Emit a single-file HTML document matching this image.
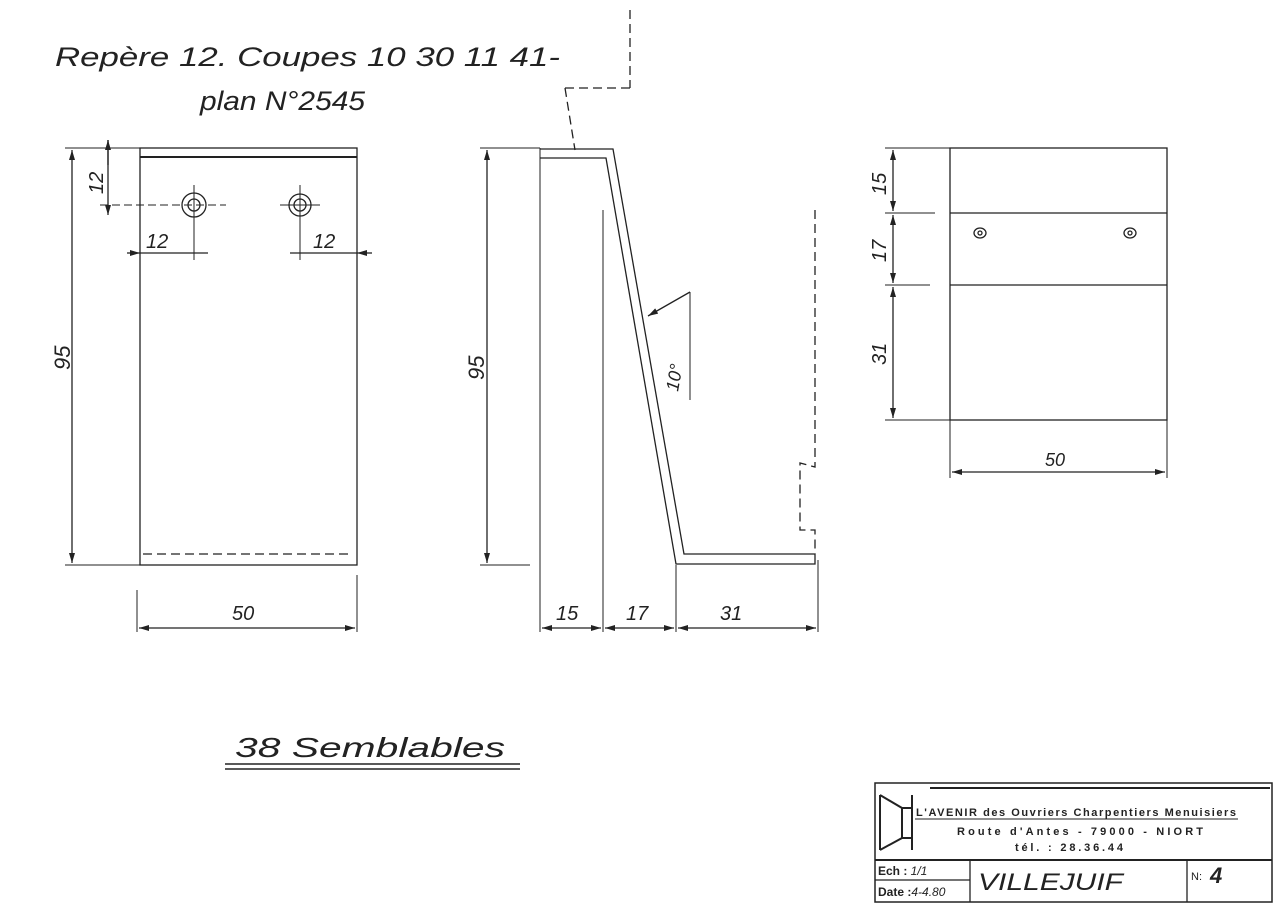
<!DOCTYPE html>
<html><head><meta charset="utf-8"><style>
html,body{margin:0;padding:0;background:#fff;}
svg{display:block;}
text{font-family:"Liberation Sans",sans-serif;fill:#222;}
.h{font-style:italic;}
</style></head><body>
<svg width="1280" height="904" viewBox="0 0 1280 904" xmlns="http://www.w3.org/2000/svg">
<defs>
<marker id="a" viewBox="0 0 10 6" refX="10" refY="3" markerWidth="12" markerHeight="6" orient="auto-start-reverse" markerUnits="userSpaceOnUse"><path d="M0,0 L10,3 L0,6 Z" fill="#222"/></marker>
</defs>
<g stroke="#222" stroke-width="1.3" fill="none">
<text x="55" y="66" font-size="27" class="h" stroke="none" textLength="505" lengthAdjust="spacingAndGlyphs">Repère 12. Coupes 10 30 11 41-</text>
<text x="200" y="110" font-size="27" class="h" stroke="none" textLength="165" lengthAdjust="spacingAndGlyphs">plan N°2545</text>

<rect x="140" y="148" width="217" height="417"/>
<line x1="140" y1="157" x2="357" y2="157" stroke-width="2"/>
<line x1="143" y1="554" x2="350" y2="554" stroke-dasharray="9,5"/>
<circle cx="194" cy="205" r="12"/><circle cx="194" cy="205" r="6"/>
<circle cx="300" cy="205" r="11"/><circle cx="300" cy="205" r="6"/>
<line x1="100" y1="205" x2="226" y2="205" stroke-dasharray="8,4" stroke-width="1"/>
<line x1="194" y1="185" x2="194" y2="260" stroke-width="1"/>
<line x1="280" y1="205" x2="320" y2="205" stroke-width="1"/>
<line x1="300" y1="185" x2="300" y2="260" stroke-width="1"/>
<line x1="65" y1="148" x2="140" y2="148" stroke-width="1"/>
<line x1="65" y1="565" x2="140" y2="565" stroke-width="1"/>
<line x1="72" y1="150" x2="72" y2="563" marker-start="url(#a)" marker-end="url(#a)"/>
<text transform="translate(70,370) rotate(-90)" font-size="22" class="h" stroke="none">95</text>
<line x1="108" y1="140" x2="108" y2="215" marker-end="url(#a)"/>
<line x1="108" y1="165" x2="108" y2="140" marker-end="url(#a)"/>
<text transform="translate(103,194) rotate(-90)" font-size="20" class="h" stroke="none">12</text>
<line x1="127" y1="253" x2="140" y2="253" marker-end="url(#a)"/>
<line x1="140" y1="253" x2="208" y2="253"/>
<text x="146" y="248" font-size="20" class="h" stroke="none">12</text>
<line x1="290" y1="253" x2="357" y2="253"/>
<line x1="372" y1="253" x2="357" y2="253" marker-end="url(#a)"/>
<text x="313" y="248" font-size="20" class="h" stroke="none">12</text>
<line x1="137" y1="590" x2="137" y2="632" stroke-width="1"/>
<line x1="357" y1="575" x2="357" y2="632" stroke-width="1"/>
<line x1="139" y1="628" x2="355" y2="628" marker-start="url(#a)" marker-end="url(#a)"/>
<text x="232" y="620" font-size="20" class="h" stroke="none">50</text>

<line x1="630" y1="10" x2="630" y2="88" stroke-dasharray="9,5"/>
<line x1="630" y1="88" x2="565" y2="88" stroke-dasharray="9,5"/>
<line x1="565" y1="88" x2="575" y2="150" stroke-dasharray="9,5"/>
<line x1="540" y1="148" x2="540" y2="632" stroke-width="1"/>
<path d="M540,149 L613,149 L684,554 L815,554 L815,564 L676,564 L606,158 L540,158"/>
<line x1="603" y1="210" x2="603" y2="632" stroke-width="1"/>
<path d="M815,210 L815,467 L800,463 L800,530 L815,530 L815,554" stroke-dasharray="9,5"/>
<line x1="480" y1="148" x2="540" y2="148" stroke-width="1"/>
<line x1="480" y1="565" x2="530" y2="565" stroke-width="1"/>
<line x1="487" y1="150" x2="487" y2="563" marker-start="url(#a)" marker-end="url(#a)"/>
<text transform="translate(484,380) rotate(-90)" font-size="22" class="h" stroke="none">95</text>
<line x1="690" y1="292" x2="690" y2="400" stroke-width="1"/>
<line x1="690" y1="292" x2="648" y2="316" marker-end="url(#a)"/>
<text transform="translate(678,392) rotate(-80)" font-size="18" class="h" stroke="none">10°</text>
<line x1="676" y1="565" x2="676" y2="632" stroke-width="1"/>
<line x1="818" y1="560" x2="818" y2="632" stroke-width="1"/>
<line x1="542" y1="628" x2="601" y2="628" marker-start="url(#a)" marker-end="url(#a)"/>
<line x1="605" y1="628" x2="674" y2="628" marker-start="url(#a)" marker-end="url(#a)"/>
<line x1="678" y1="628" x2="816" y2="628" marker-start="url(#a)" marker-end="url(#a)"/>
<text x="556" y="620" font-size="20" class="h" stroke="none">15</text>
<text x="626" y="620" font-size="20" class="h" stroke="none">17</text>
<text x="720" y="620" font-size="20" class="h" stroke="none">31</text>

<rect x="950" y="148" width="217" height="272"/>
<line x1="950" y1="213" x2="1167" y2="213"/>
<line x1="950" y1="285" x2="1167" y2="285"/>
<ellipse cx="980" cy="233" rx="6" ry="5"/><circle cx="980" cy="233" r="2"/>
<ellipse cx="1130" cy="233" rx="6" ry="5"/><circle cx="1130" cy="233" r="2"/>
<line x1="885" y1="148" x2="950" y2="148" stroke-width="1"/>
<line x1="885" y1="213" x2="935" y2="213" stroke-width="1"/>
<line x1="885" y1="285" x2="930" y2="285" stroke-width="1"/>
<line x1="885" y1="420" x2="950" y2="420" stroke-width="1"/>
<line x1="893" y1="150" x2="893" y2="211" marker-start="url(#a)" marker-end="url(#a)"/>
<line x1="893" y1="215" x2="893" y2="283" marker-start="url(#a)" marker-end="url(#a)"/>
<line x1="893" y1="287" x2="893" y2="418" marker-start="url(#a)" marker-end="url(#a)"/>
<text transform="translate(886,195) rotate(-90)" font-size="20" class="h" stroke="none">15</text>
<text transform="translate(886,262) rotate(-90)" font-size="20" class="h" stroke="none">17</text>
<text transform="translate(886,365) rotate(-90)" font-size="20" class="h" stroke="none">31</text>
<line x1="950" y1="420" x2="950" y2="478" stroke-width="1"/>
<line x1="1167" y1="420" x2="1167" y2="478" stroke-width="1"/>
<line x1="952" y1="472" x2="1165" y2="472" marker-start="url(#a)" marker-end="url(#a)"/>
<text x="1045" y="466" font-size="18" class="h" stroke="none">50</text>

<text x="235" y="757" font-size="28" class="h" stroke="none" textLength="270" lengthAdjust="spacingAndGlyphs">38 Semblables</text>
<line x1="225" y1="764" x2="520" y2="764" stroke-width="1.5"/>
<line x1="225" y1="769" x2="520" y2="769" stroke-width="1.5"/>

<rect x="875" y="783" width="397" height="119" stroke-width="1.5"/>
<line x1="930" y1="788" x2="1270" y2="788" stroke-width="2"/>
<line x1="875" y1="860" x2="1272" y2="860" stroke-width="2"/>
<line x1="970" y1="860" x2="970" y2="902"/>
<line x1="1187" y1="860" x2="1187" y2="902"/>
<line x1="875" y1="880" x2="970" y2="880"/>
<path d="M880,795 L880,850 M880,795 L902,808 L902,838 L880,850 M902,808 L912,808 M902,838 L912,838 M912,795 L912,850" stroke-width="2"/>
<line x1="915" y1="819" x2="1238" y2="819" stroke-width="1"/>
<text x="916" y="816" font-size="11" font-weight="bold" stroke="none" textLength="320" lengthAdjust="spacing">L'AVENIR   des Ouvriers  Charpentiers  Menuisiers</text>
<text x="957" y="835" font-size="11" font-weight="bold" stroke="none" textLength="246" lengthAdjust="spacing">Route  d'Antes  - 79000 -  NIORT</text>
<text x="1015" y="851" font-size="11" font-weight="bold" stroke="none" textLength="108" lengthAdjust="spacing">tél. : 28.36.44</text>
<text x="878" y="875" font-size="12" font-weight="bold" stroke="none">Ech : <tspan font-style="italic" font-weight="normal">1/1</tspan></text>
<text x="878" y="896" font-size="12" font-weight="bold" stroke="none">Date :<tspan font-style="italic" font-weight="normal">4-4.80</tspan></text>
<text x="978" y="890" font-size="24" class="h" stroke="none" textLength="145" lengthAdjust="spacingAndGlyphs">VILLEJUIF</text>
<text x="1191" y="880" font-size="11" stroke="none">N:</text>
<text x="1210" y="883" font-size="22" class="h" font-weight="bold" stroke="none">4</text>
</g>
</svg>
</body></html>
